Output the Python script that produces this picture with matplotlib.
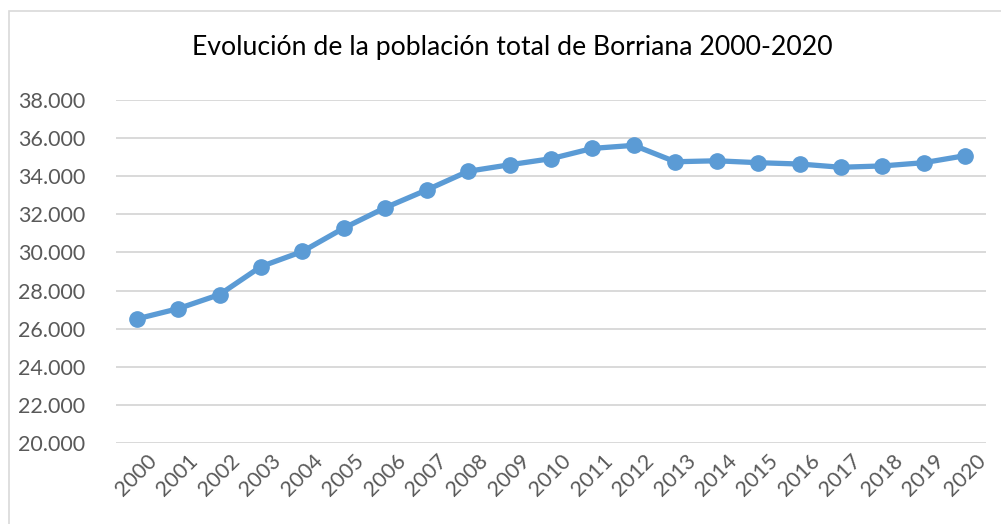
import matplotlib
matplotlib.use("Agg")
import matplotlib.pyplot as plt
from matplotlib.patches import Rectangle
from matplotlib.ticker import FuncFormatter

years = [str(y) for y in range(2000, 2021)]
population = [26510, 27050, 27790, 29260, 30050, 31280, 32350, 33280, 34260, 34600,
              34920, 35460, 35620, 34760, 34810, 34710, 34640, 34470, 34540, 34710, 35080]
yticks = list(range(20000, 38001, 2000))
title = "Evolución de la población total de Borriana 2000-2020"

plt.rcParams['font.family'] = ['Lato', 'DejaVu Sans']

W, H = 1001, 524
fig = plt.figure(figsize=(W/100, H/100), dpi=100)
fig.patch.set_facecolor('white')

# outer chart frame
fig.patches.append(Rectangle((9/W, -0.05), 1.2, (H - 11)/H + 0.05, transform=fig.transFigure,
                             fill=False, edgecolor='#D9D9D9', linewidth=1.2))

left, right, top, bottom = 116, 986, 100, 443
ax = fig.add_axes([left/W, 1 - bottom/H, (right-left)/W, (bottom-top)/H])
x = list(range(len(years)))
ax.plot(x, population, color='#5B9BD5', linewidth=3.8, marker='o', markersize=11,
        solid_capstyle='round', solid_joinstyle='round', zorder=3)
ax.set_xlim(-0.5, len(years) - 0.5)
ax.set_ylim(yticks[0], yticks[-1])
ax.set_yticks(yticks)
ax.yaxis.set_major_formatter(FuncFormatter(lambda v, p: f"{int(v):,}".replace(",", ".")))
ax.set_xticks(x)
ax.set_xticklabels(years, rotation=45, ha='right', rotation_mode='anchor')
ax.grid(axis='y', color='#D9D9D9', linewidth=1.4)
ax.set_axisbelow(True)
for s in ax.spines.values():
    s.set_visible(False)
ax.tick_params(axis='both', length=0, colors='#595959', labelsize=15.5)
ax.tick_params(axis='y', pad=22)
ax.tick_params(axis='x', pad=4)
for lbl in ax.get_xticklabels():
    lbl.set_transform(lbl.get_transform() + matplotlib.transforms.ScaledTranslation(10/100, -2/100, fig.dpi_scale_trans))

fig.text(0.512, 1 - 48/H, title, ha='center', va='center', fontsize=19.2, color='black')

fig.savefig("out.png", dpi=100)
